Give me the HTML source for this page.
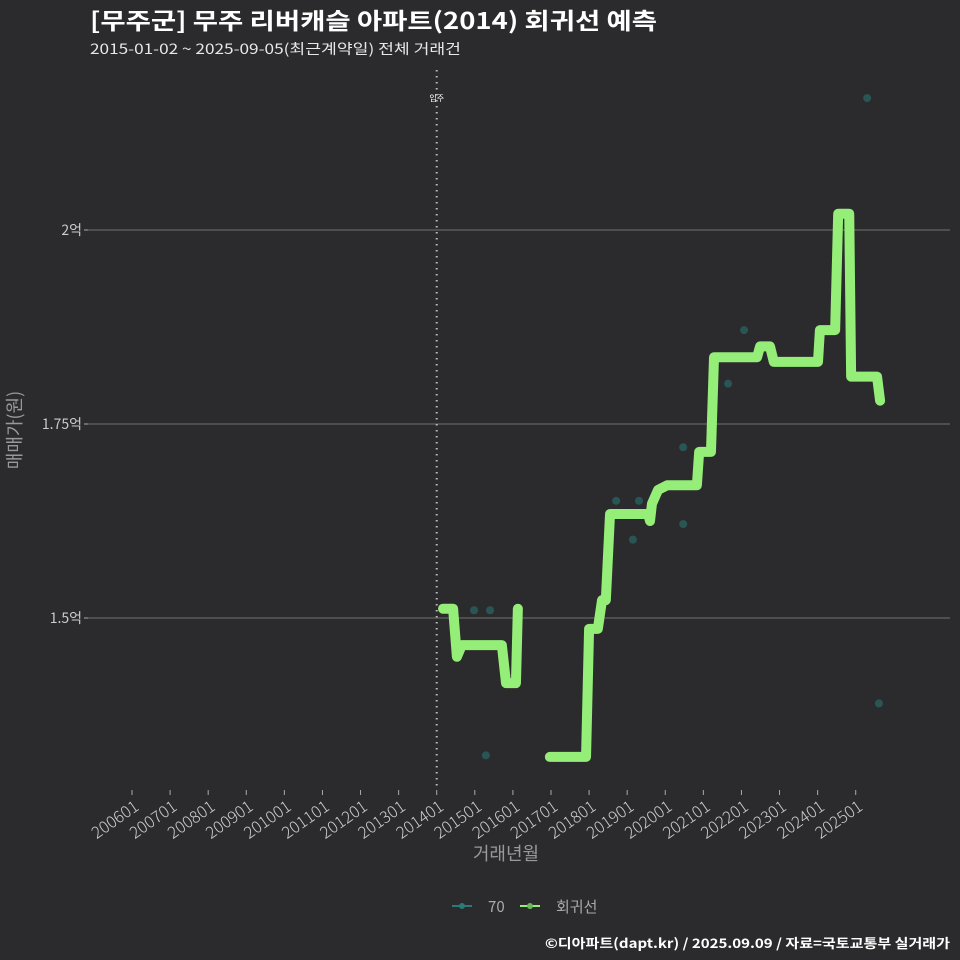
<!DOCTYPE html>
<html><head><meta charset="utf-8"><style>
body{margin:0;background:#2b2b2d;}
svg{display:block;font-family:"Noto Sans CJK KR","Liberation Sans",sans-serif;}
</style></head><body>
<svg id="c" width="960" height="960" viewBox="0 0 960 960">
<rect width="960" height="960" fill="#2b2b2d"/>
<text x="90" y="29" fill="#ffffff" font-size="23" font-weight="bold" textLength="567" lengthAdjust="spacingAndGlyphs">[무주군] 무주 리버캐슬 아파트(2014) 회귀선 예측</text>
<text x="90" y="54" fill="#e8e8e8" font-size="14" textLength="371" lengthAdjust="spacingAndGlyphs">2015-01-02 ~ 2025-09-05(최근계약일) 전체 거래건</text>
<g id="grid"></g>
<g id="xaxis"></g>
<g id="marks"></g>
<text transform="translate(21,430) rotate(-90)" text-anchor="middle" fill="#999" font-size="18">매매가(원)</text>
<text x="506" y="860" text-anchor="middle" fill="#999" font-size="18">거래년월</text>
<g>
<g><line x1="452" y1="906" x2="472" y2="906" stroke="#2a7a78" stroke-width="2"/><circle cx="462" cy="906" r="3" fill="#2a7a78"/><text x="488" y="912" fill="#aaa" font-size="15">70</text></g>
<g><line x1="520" y1="906" x2="540" y2="906" stroke="#95ee78" stroke-width="2"/><circle cx="530" cy="906" r="3" fill="#6cb85a"/><text x="556" y="912" fill="#aaa" font-size="15">회귀선</text></g>
</g>
<text x="950" y="948" text-anchor="end" fill="#ffffff" font-size="13" font-weight="bold" textLength="405" lengthAdjust="spacingAndGlyphs">©디아파트(dapt.kr) / 2025.09.09 / 자료=국토교통부 실거래가</text>
</svg>
<script>
const xTicks=["200601","200701","200801","200901","201001","201101","201201","201301","201401","201501","201601","201701","201801","201901","202001","202101","202201","202301","202401","202501"];
const yTicks=[1.5,1.75,2];
const yTickLabels=["1.5억","1.75억","2억"];
const moveInYear=2014;
const scatterYears=[2014.98,2015.40,2015.29,2018.71,2019.15,2019.31,2020.47,2020.47,2021.65,2022.07,2025.30,2025.61];
const scatterValues=[1.510,1.510,1.323,1.651,1.601,1.651,1.720,1.621,1.802,1.871,2.170,1.390];
const line1Years=[2014.165,2014.43,2014.53,2014.66,2015.71,2015.82,2016.08,2016.13];
const line1Values=[1.512,1.512,1.450,1.465,1.465,1.416,1.416,1.512];
const line2Years=[2016.97,2017.92,2018.00,2018.23,2018.34,2018.44,2018.55,2019.55,2019.60,2019.65,2019.81,2020.05,2020.83,2020.89,2021.20,2021.28,2022.41,2022.49,2022.75,2022.85,2024.01,2024.06,2024.46,2024.54,2024.83,2024.88,2025.56,2025.64];
const line2Values=[1.321,1.321,1.486,1.486,1.523,1.523,1.634,1.634,1.625,1.647,1.665,1.671,1.671,1.714,1.714,1.836,1.836,1.850,1.850,1.830,1.830,1.871,1.871,2.021,2.021,1.811,1.811,1.780];
const NS="http://www.w3.org/2000/svg";
const X=t=>132+(t-2006)*38.09;
const Y=v=>618-(v-1.5)*776;
function mk(tag,attrs,parent){const e=document.createElementNS(NS,tag);for(const k in attrs)e.setAttribute(k,attrs[k]);parent.appendChild(e);return e;}
const grid=document.getElementById('grid'),xa=document.getElementById('xaxis'),marks=document.getElementById('marks');
yTicks.forEach((v,i)=>{
  const l=mk('line',{x1:88,x2:950,y1:Y(v),y2:Y(v),stroke:'#5a5a5a','stroke-width':1.5},grid);
  
  
  const tk=mk('line',{x1:84,x2:88,y1:Y(v),y2:Y(v),stroke:'#aaa'},grid);
  
  
  const t=mk('text',{x:82,y:Y(v)+5,'text-anchor':'end',fill:'#ccc','font-size':14},grid);
  t.textContent=yTickLabels[i];
  
  
});
xTicks.forEach(s=>{
  const yr=+s.slice(0,4);const x=X(yr);
  const tk=mk('line',{x1:x,x2:x,y1:790,y2:795,stroke:'#aaa'},xa);
  
  
  const t=mk('text',{transform:`translate(${x+8},${809}) rotate(-35)`,'text-anchor':'end',fill:'#ccc','font-size':16.5,'font-weight':300},xa);
  t.textContent=s;
  
  
});
const vl=mk('line',{x1:X(moveInYear),x2:X(moveInYear),y1:70,y2:790,stroke:'#bbb','stroke-width':2,'stroke-dasharray':'1.5 4.5'},marks);


const vt=mk('text',{x:X(moveInYear),y:101,'text-anchor':'middle',fill:'#fff','font-size':8},marks);
vt.textContent='입주';


scatterYears.forEach((t,i)=>{
  const c=mk('circle',{cx:X(t),cy:Y(scatterValues[i]),r:4,fill:'#2a6a66','fill-opacity':0.7},marks);
  
  
});
[[line1Years,line1Values],[line2Years,line2Values]].forEach(([ys,vs])=>{
  const p=mk('polyline',{points:ys.map((t,i)=>X(t)+','+Y(vs[i])).join(' '),fill:'none',stroke:'#95ee78','stroke-width':10,'stroke-linejoin':'round','stroke-linecap':'round'},marks);
  
  
});
</script>
</body></html>
